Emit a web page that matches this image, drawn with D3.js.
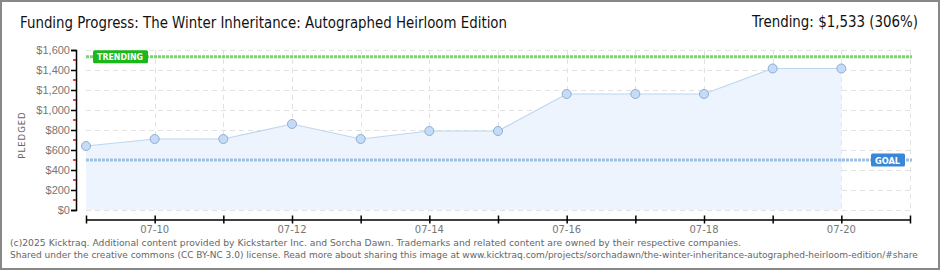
<!DOCTYPE html>
<html>
<head>
<meta charset="utf-8">
<script src="https://cdn.jsdelivr.net/npm/d3@7"></script>
<style>
  html, body { margin: 0; padding: 0; background: #fff; }
  svg { display: block; font-family: "DejaVu Sans", sans-serif; }
</style>
</head>
<body>
<div id="chart"></div>
<script>
// data
const dates = ["07-09","07-10","07-11","07-12","07-13","07-14","07-15","07-16","07-17","07-18","07-19","07-20"];
const pledged = [640, 710, 710, 860, 710, 790, 790, 1160, 1160, 1160, 1415, 1415];
const goal = 500;
const trending = 1533;
const yTicks = [0, 200, 400, 600, 800, 1000, 1200, 1400, 1600];
const xLabels = ["07-10","07-12","07-14","07-16","07-18","07-20"];

const width = 940, height = 270;
const margin = {top: 50, right: 30, bottom: 60, left: 86};

const parse = d3.timeParse("%Y-%m-%d");
const days = dates.map(d => parse("2025-" + d));

const svg = d3.select("#chart").append("svg")
    .attr("width", width)
    .attr("height", height);

// frame
svg.append("rect")
    .attr("x", 1).attr("y", 1)
    .attr("width", width - 2).attr("height", height - 2)
    .attr("fill", "#fff").attr("stroke", "#888").attr("stroke-width", 2);

const x = d3.scaleTime()
    .domain([parse("2025-07-09"), parse("2025-07-21")])
    .range([margin.left, width - margin.right]);
const y = d3.scaleLinear()
    .domain([0, 1600])
    .range([height - margin.bottom, margin.top]);

const allDays = d3.timeDay.range(parse("2025-07-09"), d3.timeDay.offset(parse("2025-07-21"), 1));

// grid
const grid = svg.append("g").attr("stroke", "#e2e2e2").attr("stroke-dasharray", "5,4");
grid.selectAll("line.h").data(yTicks).join("line")
    .attr("x1", margin.left).attr("x2", width - margin.right)
    .attr("y1", d => y(d) + 0.5).attr("y2", d => y(d) + 0.5);
grid.selectAll("line.v").data(allDays.slice(1)).join("line")
    .attr("x1", d => Math.round(x(d)) + 0.5).attr("x2", d => Math.round(x(d)) + 0.5)
    .attr("y1", y(1600)).attr("y2", y(0));

// area + line
svg.append("path")
    .datum(pledged)
    .attr("fill", "#edf4fd")
    .attr("d", d3.area().x((d, i) => x(days[i])).y0(y(0)).y1(d => y(d)));
svg.append("path")
    .datum(pledged)
    .attr("fill", "none").attr("stroke", "#bcd6f2").attr("stroke-width", 1.2)
    .attr("d", d3.line().x((d, i) => x(days[i])).y(d => y(d)));

// goal & trending lines
function refLine(v, color) {
  svg.append("line")
      .attr("x1", margin.left).attr("x2", width - margin.right + 2)
      .attr("y1", y(v)).attr("y2", y(v))
      .attr("stroke", color).attr("stroke-width", 3).attr("stroke-dasharray", "3,1");
}
refLine(goal, "#9dbfe6");
refLine(trending, "#7cd46c");

// points
svg.append("g").selectAll("circle").data(pledged).join("circle")
    .attr("cx", (d, i) => x(days[i]))
    .attr("cy", d => y(d))
    .attr("r", 4.5)
    .attr("fill", "#c4dcf7").attr("stroke", "#8fadd0").attr("stroke-width", 1);

// labels on ref lines
function tag(text, xPos, v, color, w) {
  const g = svg.append("g").attr("transform", `translate(${xPos},${y(v) - 6.5})`);
  g.append("rect").attr("width", w).attr("height", 13).attr("rx", 1.5).attr("fill", color);
  g.append("text").attr("x", 4).attr("y", 10)
      .attr("fill", "#fff").attr("font-size", 9).attr("font-weight", "bold")
      .attr("textLength", w - 9).attr("lengthAdjust", "spacingAndGlyphs")
      .text(text);
}
tag("TRENDING", 93, trending, "#1bb81b", 55);
tag("GOAL", 871, goal, "#3a87d8", 34);

// y axis
const yAxis = svg.append("g")
    .attr("transform", `translate(${margin.left - 10},0)`)
    .call(d3.axisLeft(y).tickValues(yTicks).tickSize(5).tickFormat(d => "$" + d3.format(",")(d)));
yAxis.select(".domain").attr("stroke", "#000").attr("stroke-width", 1.5);
yAxis.selectAll(".tick line").attr("stroke", "#000").attr("stroke-width", 1.5);
yAxis.selectAll(".tick text").attr("fill", "#777").attr("font-size", 11).attr("x", -6);
yAxis.selectAll("line.minor").data(d3.range(100, 1600, 200)).join("line")
    .attr("class", "minor")
    .attr("x1", -3).attr("x2", 0)
    .attr("y1", d => y(d)).attr("y2", d => y(d))
    .attr("stroke", "#e00").attr("stroke-width", 1.5);

svg.append("text")
    .attr("transform", `translate(25,${(y(0) + y(1600)) / 2 + 5}) rotate(-90)`)
    .attr("text-anchor", "middle")
    .attr("fill", "#666").attr("font-size", 8.5).attr("letter-spacing", 1)
    .text("PLEDGED");

// x axis
const xAxis = svg.append("g")
    .attr("transform", `translate(0,${y(0) + 9.5})`)
    .call(d3.axisBottom(x).tickValues(allDays).tickSize(0).tickFormat(""));
xAxis.select(".domain").attr("stroke", "#000").attr("stroke-width", 1.5);
xAxis.selectAll(".tick line").attr("stroke", "#000").attr("stroke-width", 1.5)
    .attr("y1", -4).attr("y2", 4);
svg.append("g").selectAll("text").data(xLabels).join("text")
    .attr("x", d => x(parse("2025-" + d)))
    .attr("y", y(0) + 23)
    .attr("text-anchor", "middle")
    .attr("fill", "#777").attr("font-size", 10)
    .text(d => d);

// titles
svg.append("text")
    .attr("x", 20).attr("y", 28)
    .attr("font-size", 16).attr("fill", "#111")
    .attr("textLength", 487).attr("lengthAdjust", "spacingAndGlyphs")
    .text("Funding Progress: The Winter Inheritance: Autographed Heirloom Edition");
svg.append("text")
    .attr("x", 752).attr("y", 27)
    .attr("font-size", 15).attr("fill", "#111")
    .attr("textLength", 166).attr("lengthAdjust", "spacingAndGlyphs")
    .text("Trending: $1,533 (306%)");

// footer
const foot = svg.append("g").attr("fill", "#666").attr("font-size", 9);
foot.append("text").attr("x", 10).attr("y", 246)
    .attr("textLength", 731).attr("lengthAdjust", "spacingAndGlyphs")
    .text("(c)2025 Kicktraq. Additional content provided by Kickstarter Inc. and Sorcha Dawn. Trademarks and related content are owned by their respective companies.");
foot.append("text").attr("x", 10).attr("y", 258)
    .text("Shared under the creative commons (CC BY-NC 3.0) license. Read more about sharing this image at www.kicktraq.com/projects/sorchadawn/the-winter-inheritance-autographed-heirloom-edition/#share");
</script>
</body>
</html>
